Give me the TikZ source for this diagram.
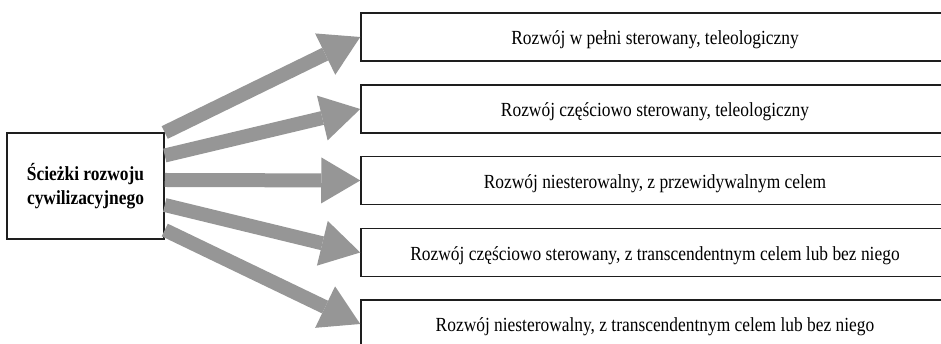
\documentclass[tikz,border=0pt]{standalone}
\usepackage{fontspec}
\setmainfont{Liberation Serif}[FakeStretch=0.87]
\usetikzlibrary{arrows.meta,calc}
\definecolor{arrowgray}{RGB}{150,150,150}
\definecolor{linedark}{RGB}{30,30,30}
\begin{document}
\begin{tikzpicture}[x=1pt,y=1pt,
  pathbox/.style={draw=linedark, line width=1.5pt, minimum width=588pt, minimum height=48pt,
    inner sep=0pt, text height=16pt, text depth=0pt, font=\fontsize{20}{23}\selectfont},
  srcbox/.style={draw=linedark, line width=1.5pt, minimum width=157pt, minimum height=106pt,
    align=center, font=\fontsize{20}{23.5}\selectfont\bfseries},
  fatarrow/.style={arrowgray, line width=14pt, -{Triangle[length=39pt,width=46pt,line width=0pt]}}]
\clip (0,0) rectangle (941,344);
\node[srcbox] (src) at (85.5,158) {Ścieżki rozwoju\\cywilizacyjnego};
\node[pathbox] (b1) at (655,307) {Rozwój w pełni sterowany, teleologiczny};
\node[pathbox] (b2) at (655,235) {Rozwój częściowo sterowany, teleologiczny};
\node[pathbox] (b3) at (655,163.5) {Rozwój niesterowalny, z przewidywalnym celem};
\node[pathbox] (b4) at (655,91.5) {Rozwój częściowo sterowany, z transcendentnym celem lub bez niego};
\node[pathbox] (b5) at (655,20) {Rozwój niesterowalny, z transcendentnym celem lub bez niego};
\coordinate (t1) at ($(src.east)+(0,53.5)$);
\coordinate (t2) at ($(src.east)+(0,30.5)$);
\coordinate (t3) at ($(src.east)+(0,6)$);
\coordinate (t4) at ($(src.east)+(0,-19)$);
\coordinate (t5) at ($(src.east)+(0,-44)$);
\draw[fatarrow] (t1) -- (b1.west);
\draw[fatarrow] (t2) -- (b2.west);
\draw[fatarrow] (t3) -- (b3.west);
\draw[fatarrow] (t4) -- (b4.west);
\draw[fatarrow] (t5) -- (b5.west);
\end{tikzpicture}
\end{document}
